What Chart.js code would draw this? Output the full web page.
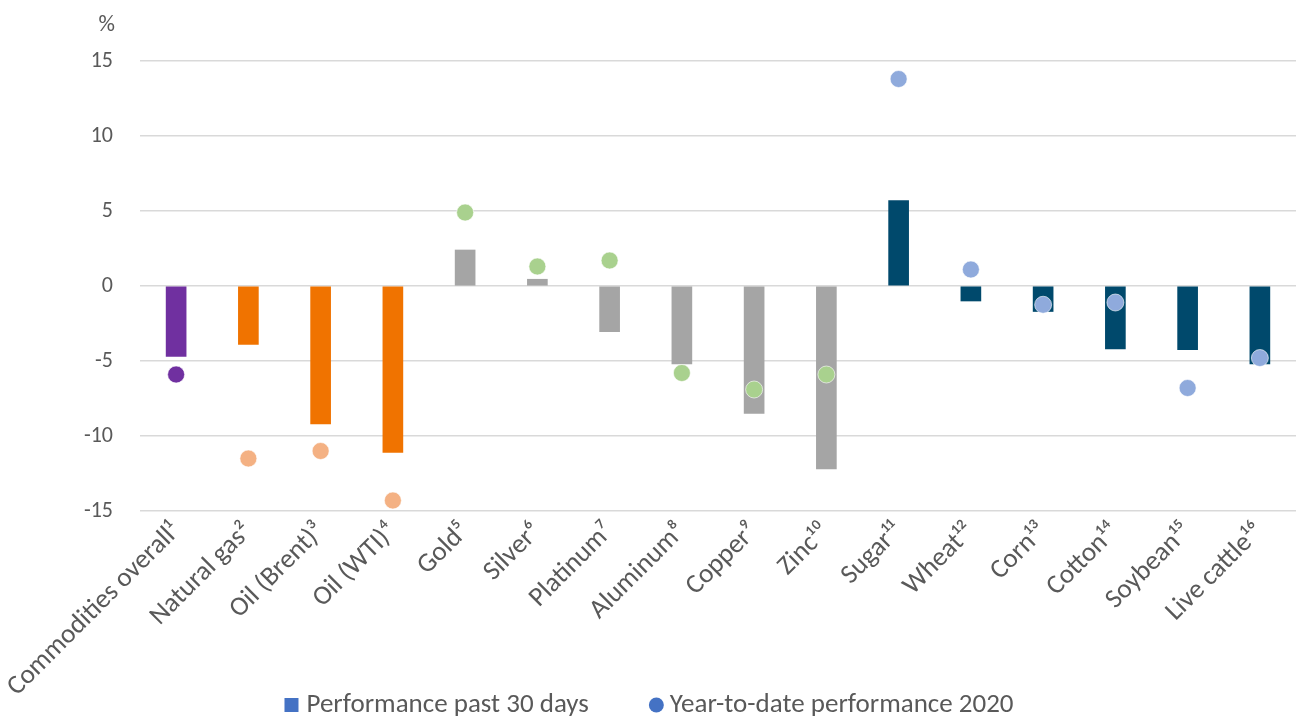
<!DOCTYPE html>
<html>
<head>
<meta charset="utf-8">
<script src="https://cdn.jsdelivr.net/npm/chart.js@4"></script>
<style>
html,body{margin:0;padding:0;background:#fff;}
#wrap{width:1296px;height:716px;}
</style>
</head>
<body>
<div id="wrap"><canvas id="c" width="1296" height="716"></canvas></div>
<script>
const categories = ["Commodities overall\u00B9","Natural gas\u00B2","Oil (Brent)\u00B3","Oil (WTI)\u2074","Gold\u2075","Silver\u2076","Platinum\u2077","Aluminum\u2078","Copper\u2079","Zinc\u00B9\u2070","Sugar\u00B9\u00B9","Wheat\u00B9\u00B2","Corn\u00B9\u00B3","Cotton\u00B9\u2074","Soybean\u00B9\u2075","Live cattle\u00B9\u2076"];
const past30Days = [-4.7,-3.9,-9.2,-11.1,2.4,0.45,-3.05,-5.2,-8.5,-12.2,5.7,-1.0,-1.7,-4.2,-4.25,-5.2];
const ytd2020 = [-5.9,-11.5,-11.0,-14.3,4.9,1.3,1.7,-5.8,-6.9,-5.9,13.8,1.1,-1.25,-1.1,-6.8,-4.8];
const seriesNames = ["Performance past 30 days","Year-to-date performance 2020"];
const yTicks = [-15,-10,-5,0,5,10,15];

const barColors = ["#7030A0","#F07300","#F07300","#F07300","#A5A5A5","#A5A5A5","#A5A5A5","#A5A5A5","#A5A5A5","#A5A5A5","#00496C","#00496C","#00496C","#00496C","#00496C","#00496C"];
const dotColors = ["#7030A0","#F4B183","#F4B183","#F4B183","#A9D18E","#A9D18E","#A9D18E","#A9D18E","#A9D18E","#A9D18E","#8FAADC","#8FAADC","#8FAADC","#8FAADC","#8FAADC","#8FAADC"];

const FONT = "Carlito, Lato, 'Noto Sans', sans-serif";
const TXT = "#595959";
const LEGEND_BLUE = "#4472C4";

const extrasPlugin = {
  id: 'extras',
  afterDraw(chart) {
    const ctx = chart.ctx;
    ctx.save();
    // "%" unit label
    ctx.font = "23px " + FONT;
    ctx.fillStyle = TXT;
    ctx.textAlign = "right";
    ctx.textBaseline = "middle";
    ctx.fillText("%", 115, 25);

    // legend
    ctx.font = "27px " + FONT;
    ctx.textAlign = "left";
    const cy = 705;
    const sq = 14, gapIcon = 8, gapItem = 60, r = 7.5;
    const w0 = ctx.measureText(seriesNames[0]).width;
    const w1 = ctx.measureText(seriesNames[1]).width;
    const total = sq + gapIcon + w0 + gapItem + 2 * r + gapIcon + w1;
    let x = (chart.width - total) / 2 + 2;
    ctx.fillStyle = LEGEND_BLUE;
    ctx.fillRect(x, cy - sq / 2, sq, sq);
    x += sq + gapIcon;
    ctx.fillStyle = TXT;
    ctx.fillText(seriesNames[0], x, cy);
    x += w0 + gapItem;
    ctx.fillStyle = LEGEND_BLUE;
    ctx.beginPath();
    ctx.arc(x + r, cy, r, 0, Math.PI * 2);
    ctx.fill();
    x += 2 * r + gapIcon - 2;
    ctx.fillStyle = TXT;
    ctx.fillText(seriesNames[1], x, cy);
    ctx.restore();
  }
};

new Chart(document.getElementById('c'), {
  data: {
    labels: categories,
    datasets: [
      {
        type: 'line',
        label: seriesNames[1],
        data: ytd2020,
        showLine: false,
        pointRadius: 8.5,
        pointHoverRadius: 8.5,
        pointBackgroundColor: dotColors,
        pointBorderColor: "rgba(255,255,255,0.8)",
        pointBorderWidth: 0.75,
        clip: false,
        order: 0
      },
      {
        type: 'bar',
        label: seriesNames[0],
        data: past30Days,
        backgroundColor: barColors,
        barThickness: 20,
        order: 1
      }
    ]
  },
  options: {
    responsive: false,
    animation: false,
    layout: { autoPadding: false, padding: { top: 61, left: 0, right: 0, bottom: 0 } },
    plugins: {
      tooltip: { enabled: false },
      legend: { display: false }
    },
    scales: {
      x: {
        grid: { display: false, drawTicks: false },
        border: { display: false },
        ticks: {
          color: TXT,
          font: { family: FONT, size: 27 },
          minRotation: 45,
          maxRotation: 45,
          padding: 5,
          autoSkip: false
        },
        afterFit(scale) {
          scale.height = 205;
          scale.paddingLeft = 0;
          scale.paddingRight = 0;
        }
      },
      y: {
        min: -15,
        max: 15,
        afterBuildTicks(scale) { scale.ticks = yTicks.map(v => ({ value: v })); },
        grid: { color: "#D9D9D9", lineWidth: 1.6, drawTicks: false },
        border: { display: false },
        ticks: {
          color: TXT,
          font: { family: FONT, size: 22 },
          padding: 27
        },
        afterFit(scale) { scale.width = 140; }
      }
    }
  },
  plugins: [extrasPlugin]
});
</script>
</body>
</html>
